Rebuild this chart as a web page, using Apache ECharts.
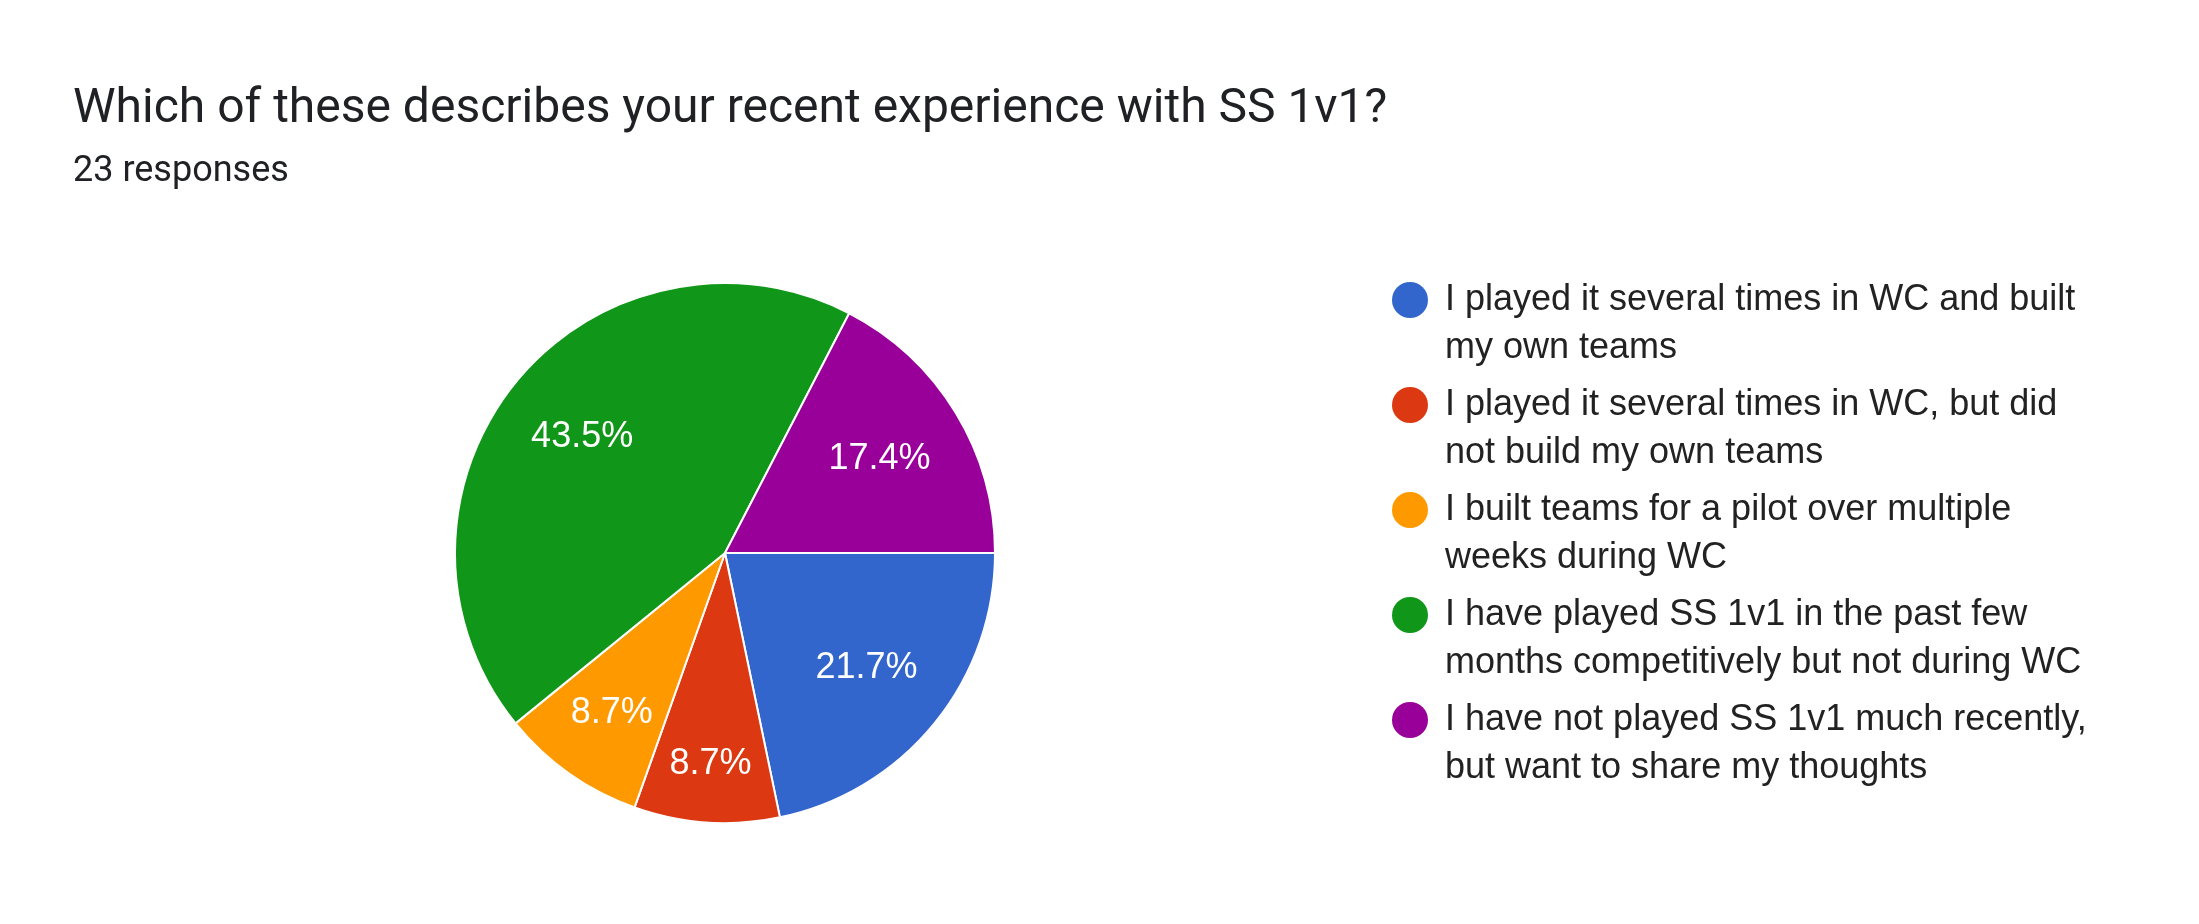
<!DOCTYPE html>
<html>
<head>
<meta charset="utf-8">
<title>SS 1v1 survey</title>
<script src="https://cdn.jsdelivr.net/npm/echarts@6/dist/echarts.min.js"></script>
<style>
  html, body { margin: 0; padding: 0; background: #fff; }
  #main { width: 2199px; height: 924px; }
</style>
</head>
<body>
<div id="main"></div>
<script>
// answers (legend text, wrapped like the original)
const answers = [
    'I played it several times in WC and built\nmy own teams',
    'I played it several times in WC, but did\nnot build my own teams',
    'I built teams for a pilot over multiple\nweeks during WC',
    'I have played SS 1v1 in the past few\nmonths competitively but not during WC',
    'I have not played SS 1v1 much recently,\nbut want to share my thoughts'
];
// number of responses per answer (23 total)
const counts = [5, 2, 2, 10, 4];
const colors = ['#3366cc', '#dc3912', '#ff9900', '#109618', '#990099'];

// pie geometry + where each percent label sits (fraction of radius)
const PIE_CX = 725, PIE_CY = 553, PIE_R = 270;
const labelRadius = [0.676, 0.784, 0.727, 0.682, 0.670];

let chart = echarts.init(document.getElementById('main'));

let total = counts.reduce(function (a, b) { return a + b; }, 0);
let pieData = answers.map(function (name, i) {
    return {name: name, value: counts[i]};
});

//label centre on the slice's mid angle (start at 3 o'clock, clockwise)
function labelPos(idx) {
    let before = 0;
    for (let i = 0; i < idx; i++) before += counts[i];
    let mid = (before + counts[idx] / 2) / total * Math.PI * 2;
    let d = labelRadius[idx] * PIE_R;
    return {x: PIE_CX + d * Math.cos(mid), y: PIE_CY + d * Math.sin(mid)};
}

let option = {
    backgroundColor: '#fff',
    color: colors,
    animation: false,
    title: {
        text: 'Which of these describes your recent experience with SS 1v1?',
        subtext: '23 responses',
        left: 73,
        top: 86,
        padding: 0,
        itemGap: 20,
        textStyle: {
            fontFamily: 'Roboto',
            fontSize: 48,
            fontWeight: 'normal',
            color: '#202124'
        },
        subtextStyle: {
            fontFamily: 'Roboto',
            fontSize: 36,
            color: '#202124'
        }
    },
    legend: {
        orient: 'vertical',
        left: 1392,
        top: 228,
        padding: 0,
        icon: 'circle',
        itemWidth: 36,
        itemHeight: 36,
        itemGap: -39,
        selectedMode: false,
        itemStyle: {borderWidth: 0},
        // blank first line so the marker lines up with the first text line
        formatter: function (name) {
            return '\n' + name;
        },
        textStyle: {
            fontFamily: 'Liberation Sans, Arial',
            fontSize: 36,
            lineHeight: 48,
            color: '#222222',
            padding: [0, 0, 0, 12]
        }
    },
    series: [
        {
            name: 'answers',
            type: 'pie',
            center: [PIE_CX, PIE_CY],
            radius: [0, PIE_R],
            startAngle: 0,
            clockwise: true,
            percentPrecision: 1,
            avoidLabelOverlap: false,
            emphasis: {disabled: true},
            itemStyle: {
                borderColor: '#fff',
                borderWidth: 2
            },
            labelLine: {show: false},
            label: {
                show: true,
                position: 'inside',
                formatter: '{d}%',
                color: '#fff',
                fontFamily: 'Liberation Sans, Arial',
                fontSize: 36
            },
            labelLayout: function (params) {
                let p = labelPos(params.dataIndex);
                return {x: p.x, y: p.y, align: 'center', verticalAlign: 'middle'};
            },
            data: pieData
        }
    ]
};

chart.setOption(option);
</script>
</body>
</html>
